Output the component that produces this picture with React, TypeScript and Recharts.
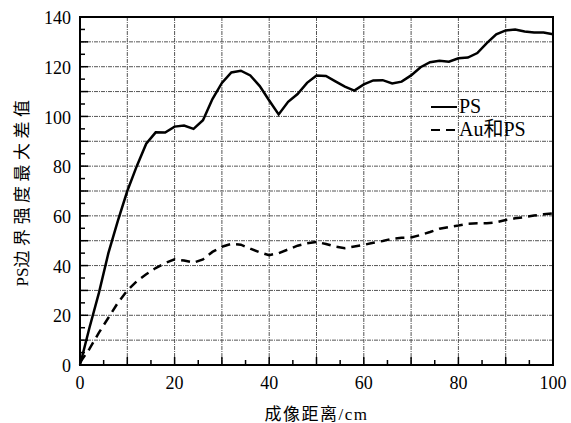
import { CartesianGrid, Label, Legend, Line, LineChart, ReferenceArea, XAxis, YAxis } from "recharts";

const distance = [
  0, 2, 4, 6, 8, 10, 12, 14, 16, 18, 20, 22, 24, 26, 28, 30, 32, 34, 36, 38, 40, 42, 44, 46, 48, 50,
  52, 54, 56, 58, 60, 62, 64, 66, 68, 70, 72, 74, 76, 78, 80, 82, 84, 86, 88, 90, 92, 94, 96, 98, 100,
];
const psValues = [
  0, 15, 29, 45, 58, 70, 80, 89, 93.6, 93.5, 95.9, 96.3, 95, 98.5, 107, 113.5, 117.7, 118.4, 116.5,
  112.2, 106.4, 100.8, 105.9, 109, 113.5, 116.5, 116.3, 114.1, 112, 110.4, 112.9, 114.5, 114.6, 113.3,
  114, 116.5, 119.8, 121.8, 122.4, 122, 123.4, 123.7, 125.5, 129.5, 133, 134.6, 135, 134.2, 133.8,
  133.8, 133.1,
];
const auPsValues = [
  1, 6.5, 13, 19, 25, 30, 33.7, 36.5, 39, 41, 42.5, 42, 41.2, 42.5, 45.5, 47.6, 48.7, 48.4, 46.8, 45.3,
  44.2, 45, 46.5, 48, 49, 49.5, 48.7, 47.6, 47, 47.7, 48.3, 49.2, 49.9, 50.8, 51.2, 51.3, 52.3, 53.5,
  54.8, 55.5, 56.1, 56.8, 57, 57, 57.4, 58.3, 59, 59.5, 60.1, 60.6, 61,
];

const xTicks = [0, 5, 10, 15, 20, 25, 30, 35, 40, 45, 50, 55, 60, 65, 70, 75, 80, 85, 90, 95, 100];
const yTicks = [
  0, 5, 10, 15, 20, 25, 30, 35, 40, 45, 50, 55, 60, 65, 70, 75, 80, 85, 90, 95, 100, 105, 110, 115,
  120, 125, 130, 135, 140,
];
const gridX = [10, 20, 30, 40, 50, 60, 70, 80, 90];
const gridY = [10, 20, 30, 40, 50, 60, 70, 80, 90, 100, 110, 120, 130];
const seriesOrder = ["ps", "au"];

const data = distance.map((d, i) => ({ d, ps: psValues[i], au: auPsValues[i] }));

const serif = "'Liberation Serif', 'Times New Roman', 'Noto Sans CJK SC', serif";
const cjk = "'Liberation Serif', 'Noto Sans CJK SC', serif";

function XTick({ x, y, payload }: any) {
  const v = payload.value;
  const axisY = y - 11;
  const len = v % 10 === 0 ? 8 : 5;
  return (
    <g>
      <line x1={x} y1={axisY} x2={x} y2={axisY - len} stroke="#000" strokeWidth={1.5} />
      {v % 20 === 0 && (
        <text x={x} y={y} dy="0.72em" textAnchor="middle" fontFamily={serif} fontSize={18} fill="#000">
          {v}
        </text>
      )}
    </g>
  );
}

function YTick({ x, y, payload }: any) {
  const v = payload.value;
  const axisX = x + 9;
  const len = v % 10 === 0 ? 8 : 5;
  return (
    <g>
      <line x1={axisX} y1={y} x2={axisX + len} y2={y} stroke="#000" strokeWidth={1.5} />
      {v % 20 === 0 && (
        <text x={x} y={y} dy="0.4em" textAnchor="end" fontFamily={serif} fontSize={18} fill="#000">
          {v}
        </text>
      )}
    </g>
  );
}

function LegendBox({ payload }: any) {
  const items = [...(payload || [])].sort(
    (a: any, b: any) => seriesOrder.indexOf(a.dataKey) - seriesOrder.indexOf(b.dataKey)
  );
  return (
    <div style={{ fontFamily: cjk, fontSize: 20, lineHeight: "23px", color: "#000" }}>
      {items.map((p: any) => (
        <div key={p.value} style={{ display: "flex", alignItems: "center" }}>
          <svg width={27} height={10}>
            <line
              x1={0}
              y1={5}
              x2={26}
              y2={5}
              stroke="#000"
              strokeWidth={2}
              strokeDasharray={p.payload?.strokeDasharray}
            />
          </svg>
          <span style={{ marginLeft: 1 }}>{p.value}</span>
        </div>
      ))}
    </div>
  );
}

export default function App() {
  return (
    <div style={{ position: "fixed", left: 0, top: 0, background: "#fff" }}>
      <LineChart width={571} height={423} data={data} margin={{ top: 17, right: 18, left: 0, bottom: 0 }}>
        <CartesianGrid
          horizontalValues={gridY}
          verticalValues={gridX}
          stroke="#555"
          strokeWidth={1}
          strokeDasharray="4 1 1 1"
        />
        <XAxis
          dataKey="d"
          type="number"
          domain={[0, 100]}
          ticks={xTicks}
          interval={0}
          tick={<XTick />}
          tickSize={0}
          tickMargin={11}
          tickLine={false}
          axisLine={{ stroke: "#000", strokeWidth: 2 }}
          height={58}
        >
          <Label
            content={({ viewBox }: any) => (
              <text
                x={viewBox.x + viewBox.width / 2}
                y={viewBox.y + 49}
                textAnchor="middle"
                dominantBaseline="central"
                fontFamily={cjk}
                fontSize={17}
                letterSpacing={1.5}
                fill="#000"
              >
                成像距离/cm
              </text>
            )}
          />
        </XAxis>
        <YAxis
          type="number"
          domain={[0, 140]}
          ticks={yTicks}
          interval={0}
          tick={<YTick />}
          tickSize={0}
          tickMargin={9}
          tickLine={false}
          axisLine={{ stroke: "#000", strokeWidth: 2 }}
          width={80}
        >
          <Label
            content={({ viewBox }: any) => {
              const cx = 22;
              const cy = viewBox.y + viewBox.height / 2;
              return (
                <text
                  x={cx}
                  y={cy}
                  transform={`rotate(-90 ${cx} ${cy})`}
                  textAnchor="middle"
                  dominantBaseline="central"
                  fontFamily={cjk}
                  fontSize={17}
                  fill="#000"
                >
                  <tspan>PS</tspan>
                  <tspan letterSpacing={4.5}>边界强度最大差值</tspan>
                </text>
              );
            }}
          />
        </YAxis>
        <Legend
          layout="vertical"
          align="center"
          verticalAlign="middle"
          content={<LegendBox />}
          wrapperStyle={{ left: 431, top: 95, width: "auto", height: "auto" }}
        />
        <Line
          dataKey="ps"
          name="PS"
          stroke="#000"
          strokeWidth={2.5}
          dot={false}
          type="linear"
          isAnimationActive={false}
        />
        <Line
          dataKey="au"
          name="Au和PS"
          stroke="#000"
          strokeWidth={2.5}
          strokeDasharray="9 6"
          dot={false}
          type="linear"
          isAnimationActive={false}
        />
        <ReferenceArea x1={0} x2={100} y1={0} y2={140} fill="none" stroke="#000" strokeWidth={2} />
      </LineChart>
    </div>
  );
}
